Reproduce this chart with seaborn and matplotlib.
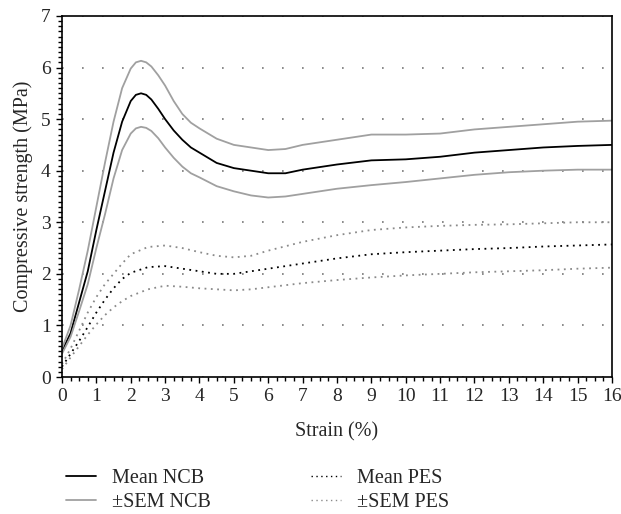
import numpy as np
import pandas as pd
import matplotlib
matplotlib.use("Agg")
import matplotlib.pyplot as plt
from matplotlib.lines import Line2D
from matplotlib.ticker import MultipleLocator
import seaborn as sns

# Values
strain_ncb = [0, 0.25, 0.5, 0.75, 1.0, 1.25, 1.5, 1.75, 2.0, 2.15, 2.3, 2.45, 2.6, 2.8,
              3.0, 3.25, 3.5, 3.75, 4.0, 4.5, 5, 5.5, 6, 6.5, 7, 8, 9, 10, 11, 12, 13,
              14, 15, 16]
mean_ncb = [0.5, 0.85, 1.45, 2.05, 2.85, 3.6, 4.35, 4.95, 5.35, 5.47, 5.5, 5.47, 5.38,
            5.2, 5.0, 4.78, 4.6, 4.45, 4.35, 4.15, 4.05, 4.0, 3.95, 3.95, 4.02, 4.12,
            4.2, 4.22, 4.27, 4.35, 4.4, 4.45, 4.48, 4.5]
upper_ncb = [0.55, 1.0, 1.7, 2.45, 3.3, 4.15, 4.95, 5.6, 5.98, 6.1, 6.13, 6.1, 6.02,
             5.85, 5.65, 5.35, 5.1, 4.93, 4.82, 4.62, 4.5, 4.45, 4.4, 4.42, 4.5, 4.6,
             4.7, 4.7, 4.72, 4.8, 4.85, 4.9, 4.95, 4.97]
lower_ncb = [0.45, 0.78, 1.28, 1.8, 2.5, 3.15, 3.85, 4.4, 4.72, 4.82, 4.85, 4.83, 4.77,
             4.63, 4.45, 4.25, 4.08, 3.95, 3.87, 3.7, 3.6, 3.52, 3.48, 3.5, 3.55, 3.65,
             3.72, 3.78, 3.85, 3.92, 3.97, 4.0, 4.02, 4.02]

strain_pes = [0, 0.25, 0.5, 0.75, 1.0, 1.25, 1.5, 1.75, 2.0, 2.5, 3.0, 3.5, 4, 4.5, 5,
              5.5, 6, 7, 8, 9, 10, 11, 12, 13, 14, 15, 16]
mean_pes = [0.2, 0.45, 0.7, 0.97, 1.25, 1.5, 1.72, 1.9, 2.02, 2.13, 2.15, 2.1, 2.05,
            2.0, 2.0, 2.05, 2.1, 2.2, 2.3, 2.38, 2.42, 2.45, 2.48, 2.5, 2.53, 2.55, 2.57]
upper_pes = [0.25, 0.55, 0.9, 1.25, 1.55, 1.8, 2.0, 2.2, 2.38, 2.52, 2.55, 2.5, 2.42,
             2.35, 2.32, 2.35, 2.45, 2.62, 2.75, 2.85, 2.9, 2.93, 2.95, 2.96, 2.98, 3.0, 3.0]
lower_pes = [0.15, 0.38, 0.6, 0.82, 1.02, 1.2, 1.35, 1.47, 1.57, 1.7, 1.77, 1.75, 1.72,
             1.7, 1.68, 1.7, 1.74, 1.82, 1.88, 1.93, 1.97, 2.0, 2.03, 2.05, 2.07, 2.1, 2.12]

legend_labels = ["Mean NCB", "±SEM NCB", "Mean PES", "±SEM PES"]

sns.set_style("ticks")
plt.rcParams['font.family'] = ['Liberation Serif', 'DejaVu Serif']
plt.rcParams['font.size'] = 14

fig = plt.figure(figsize=(6.21, 5.14), dpi=100)
ax = fig.add_axes([0.0998, 0.2665, 0.8857, 0.7025])

dotted = (0, (1, 2.5))
series = [
    (strain_ncb, mean_ncb, "black", "-"),
    (strain_ncb, upper_ncb, "#a0a0a0", "-"),
    (strain_ncb, lower_ncb, "#a0a0a0", "-"),
    (strain_pes, mean_pes, "black", dotted),
    (strain_pes, upper_pes, "#8a8a8a", dotted),
    (strain_pes, lower_pes, "#8a8a8a", dotted),
]
for xs, ys, col, ls in series:
    sns.lineplot(x=xs, y=ys, ax=ax, color=col, linestyle=ls, linewidth=1.3)

ax.set_xlim(0, 16)
ax.set_ylim(0, 7)
ax.xaxis.set_major_locator(MultipleLocator(1))
ax.xaxis.set_minor_locator(MultipleLocator(0.25))
ax.yaxis.set_major_locator(MultipleLocator(1))
ax.yaxis.set_minor_locator(MultipleLocator(0.1))
ax.tick_params(which='major', length=4, width=1, color='black', pad=4, labelsize=14)
ax.tick_params(which='minor', length=3, width=1, color='black')
ax.yaxis.grid(True, which='major', linestyle=(0, (1, 11)), color='#777777', linewidth=1.2)
for s in ax.spines.values():
    s.set_color('black')
    s.set_linewidth(1.2)

ax.set_xlabel("Strain (%)", fontsize=14.5, labelpad=12)
ax.set_ylabel("Compressive strength (MPa)", fontsize=14.5, labelpad=6)

handles = [
    Line2D([], [], color="black", linestyle="-", linewidth=1.3),
    Line2D([], [], color="#a0a0a0", linestyle="-", linewidth=1.3),
    Line2D([], [], color="black", linestyle=dotted, linewidth=1.0),
    Line2D([], [], color="#8a8a8a", linestyle=dotted, linewidth=1.0),
]
fig.legend(handles, legend_labels, loc='lower left', bbox_to_anchor=(0.093, -0.012),
           ncol=2, frameon=False, fontsize=14.5, columnspacing=4.95,
           handlelength=1.5, handletextpad=0.8, labelspacing=0.25, borderaxespad=0)

fig.savefig("out.png", dpi=100)
